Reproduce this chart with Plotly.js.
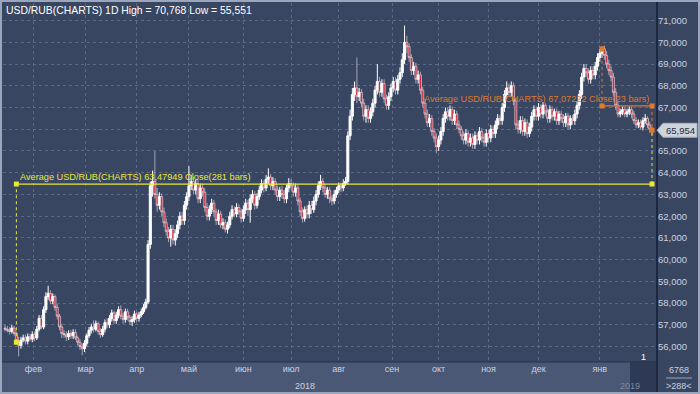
<!DOCTYPE html>
<html><head><meta charset="utf-8">
<script src="https://cdn.plot.ly/plotly-3.0.1.min.js"></script>
<style>html,body{margin:0;padding:0;background:#394662;}#chart{width:700px;height:394px;}</style>
</head><body><div id="chart"></div>
<script>
const openP=[
56.85,56.80,56.75,56.70,56.85,56.60,56.20,56.05,56.30,56.40,
56.25,56.45,56.35,56.55,56.40,56.80,57.30,56.90,57.70,58.30,
58.45,58.10,58.30,57.80,57.40,56.90,56.60,56.55,56.45,56.60,
56.50,56.65,56.40,56.20,56.00,55.90,56.15,56.50,56.75,56.90,
56.80,57.05,56.70,56.55,56.80,57.10,57.00,57.30,57.55,57.20,
57.45,57.70,57.40,57.25,57.60,57.35,57.15,57.25,57.50,57.30,
57.45,57.60,57.80,58.05,60.70,63.40,63.60,63.00,62.50,62.90,
62.20,61.70,61.30,61.00,61.40,60.90,61.20,61.60,62.00,61.80,
62.50,62.90,63.40,63.60,63.20,63.50,62.80,63.30,63.10,62.40,
62.00,62.30,62.60,62.20,61.80,62.10,61.60,61.70,61.40,61.60,
62.00,62.30,62.10,62.40,62.20,61.90,62.30,62.60,62.30,62.80,
63.00,62.50,62.90,63.20,63.50,63.30,63.70,63.80,63.40,63.60,
63.20,62.90,63.20,63.00,62.80,63.30,63.50,63.40,63.10,63.30,
62.70,62.20,61.90,62.30,62.10,62.50,62.30,62.70,63.00,63.40,
63.60,63.30,63.00,63.20,62.80,62.70,63.00,63.20,63.40,63.30,
63.50,63.60,65.70,66.60,67.60,67.90,67.50,67.70,67.20,66.60,
66.90,66.50,66.80,67.20,67.80,68.20,67.70,68.10,67.40,67.10,
67.50,67.90,68.20,67.80,68.30,68.60,69.20,70.00,69.80,69.30,
68.70,68.90,68.30,68.50,67.80,67.20,66.70,66.30,66.50,65.90,
65.60,65.20,65.50,65.90,66.50,66.80,66.60,66.90,66.40,66.70,
66.20,66.00,65.70,65.50,65.80,65.40,65.60,65.30,65.70,65.50,
65.90,65.60,65.40,65.80,65.60,66.00,65.80,66.20,66.50,66.40,
67.00,67.60,67.90,67.70,68.00,67.30,66.20,66.00,66.40,65.90,
66.30,65.80,66.10,66.60,66.90,66.60,67.00,66.70,67.10,66.80,
66.50,66.90,66.60,66.80,66.40,66.70,66.50,66.30,66.60,66.20,
66.50,66.40,66.70,67.10,67.60,68.40,68.80,68.60,68.30,68.70,
68.50,68.90,69.30,69.50,69.70,69.40,69.00,68.70,68.40,67.70,
67.10,66.70,66.80,66.90,66.70,66.80,66.90,66.70,66.40,66.20,
66.30,66.10,66.40,66.50,66.20,66.00];
const highP=[
57.00,56.95,56.90,57.00,56.95,56.70,56.45,56.45,56.55,56.55,
56.60,56.60,56.70,56.70,56.95,57.45,57.45,57.85,58.50,58.80,
58.60,58.45,58.40,57.95,57.50,57.05,56.75,56.70,56.75,56.75,
56.80,56.80,56.50,56.35,56.15,56.30,56.60,56.90,57.05,57.20,
57.20,57.15,56.85,56.95,57.25,57.30,57.45,57.70,57.65,57.60,
57.85,57.90,57.55,57.75,57.75,57.45,57.40,57.65,57.60,57.60,
57.75,57.95,58.20,60.90,63.60,64.10,65.00,63.30,63.10,63.05,
62.40,61.90,61.50,61.60,61.60,61.40,61.80,62.20,62.20,62.70,
63.10,64.30,63.90,63.80,63.70,63.70,63.50,63.50,63.30,62.60,
62.50,62.80,62.75,62.35,62.30,62.25,61.90,61.85,61.75,62.20,
62.50,62.45,62.60,62.55,62.35,62.50,62.80,62.75,63.00,63.20,
63.15,63.05,63.40,63.70,63.65,63.90,64.20,63.95,63.80,63.75,
63.40,63.35,63.40,63.20,63.45,63.75,63.70,63.55,63.50,63.45,
62.85,62.40,62.45,62.50,62.70,62.70,62.90,63.20,63.60,63.90,
63.75,63.45,63.35,63.35,62.95,63.20,63.35,63.55,63.55,63.70,
63.80,65.90,66.90,67.90,68.20,69.30,67.90,67.85,67.40,67.10,
67.10,67.00,67.40,68.00,69.00,68.40,68.30,68.30,67.60,67.70,
68.10,68.40,68.40,68.50,68.85,69.50,70.768,70.30,69.95,69.45,
69.10,69.05,68.70,68.65,67.95,67.40,66.90,66.70,66.65,66.05,
65.80,65.70,66.10,66.70,67.00,67.00,67.10,67.05,66.90,66.85,
66.40,66.15,65.90,66.00,65.95,65.80,65.80,65.90,65.85,66.10,
66.05,65.80,66.00,65.95,66.20,66.15,66.40,66.70,66.65,67.20,
67.80,68.20,68.10,68.20,68.15,67.45,66.40,66.60,66.60,66.50,
66.45,66.30,66.80,67.10,67.05,67.20,67.15,67.25,67.20,66.95,
67.10,67.05,66.95,66.95,66.85,66.85,66.70,66.75,66.75,66.65,
66.65,66.90,67.30,67.80,68.60,69.00,69.00,68.80,68.90,68.90,
69.10,69.50,69.70,69.80,69.85,69.60,69.20,68.90,68.60,67.90,
67.25,66.95,67.05,67.05,66.95,67.05,67.05,66.85,66.55,66.45,
66.45,66.55,66.70,66.60,66.35,66.10];
const lowP=[
56.70,56.65,56.55,56.60,56.50,56.10,55.55,55.90,56.20,56.10,
56.10,56.25,56.20,56.25,56.30,56.70,56.80,56.80,57.55,58.15,
57.95,57.95,57.65,57.25,56.75,56.40,56.40,56.25,56.30,56.35,
56.35,56.30,56.05,55.85,55.60,55.75,56.00,56.40,56.60,56.65,
56.70,56.55,56.40,56.45,56.65,56.85,56.85,57.15,57.05,57.05,
57.30,57.25,57.05,57.10,57.20,57.00,56.95,57.10,57.15,57.15,
57.35,57.50,57.70,57.95,60.50,62.90,62.80,62.20,62.30,62.00,
61.50,61.10,60.80,60.60,60.70,60.65,61.00,61.40,61.60,61.60,
62.30,62.70,63.20,63.00,63.00,62.60,62.60,62.90,62.20,61.80,
61.80,62.10,62.00,61.60,61.60,61.45,61.40,61.25,61.20,61.45,
61.85,61.95,61.95,62.05,61.70,61.75,62.10,62.00,61.70,62.60,
62.30,62.35,62.75,63.05,63.10,63.15,63.50,63.20,63.20,63.00,
62.70,62.70,62.80,62.60,62.60,63.10,63.20,62.90,62.90,62.50,
62.00,61.70,61.75,61.90,61.90,62.10,62.15,62.50,62.85,63.20,
63.10,62.85,62.80,62.60,62.50,62.55,62.85,63.05,63.10,63.15,
63.40,63.45,65.50,66.40,67.30,67.20,67.30,67.00,66.40,66.30,
66.30,66.30,66.60,67.00,67.60,67.50,67.50,67.20,66.90,66.90,
67.30,67.70,67.60,67.60,68.10,68.40,69.00,69.50,69.10,68.50,
68.50,68.10,68.10,67.60,67.00,66.50,66.10,66.10,65.70,65.40,
64.90,65.00,65.30,65.70,66.30,66.40,66.40,66.20,66.20,66.00,
65.80,65.50,65.30,65.30,65.20,65.20,65.10,65.10,65.30,65.30,
65.40,65.20,65.20,65.40,65.40,65.60,65.60,66.00,66.20,66.20,
66.80,67.40,67.50,67.50,67.10,66.00,65.80,65.80,65.70,65.70,
65.60,65.65,65.90,66.40,66.40,66.40,66.50,66.50,66.60,66.30,
66.30,66.40,66.40,66.20,66.20,66.30,66.10,66.10,66.00,66.00,
66.20,66.20,66.50,66.90,67.40,68.20,68.40,68.10,68.10,68.30,
68.30,68.70,69.10,69.30,69.20,68.80,68.50,68.20,67.50,66.90,
66.55,66.55,66.65,66.55,66.55,66.65,66.50,66.25,66.05,66.05,
66.00,65.95,66.25,66.05,65.85,65.75];
const closeP=[
56.80,56.75,56.70,56.85,56.60,56.20,56.05,56.30,56.40,56.25,
56.45,56.35,56.55,56.40,56.80,57.30,56.90,57.70,58.30,58.45,
58.10,58.30,57.80,57.40,56.90,56.60,56.55,56.45,56.60,56.50,
56.65,56.40,56.20,56.00,55.90,56.15,56.50,56.75,56.90,56.80,
57.05,56.70,56.55,56.80,57.10,57.00,57.30,57.55,57.20,57.45,
57.70,57.40,57.25,57.60,57.35,57.15,57.25,57.50,57.30,57.45,
57.60,57.80,58.05,60.70,63.40,63.60,63.00,62.50,62.90,62.20,
61.70,61.30,61.00,61.40,60.90,61.20,61.60,62.00,61.80,62.50,
62.90,63.40,63.60,63.20,63.50,62.80,63.30,63.10,62.40,62.00,
62.30,62.60,62.20,61.80,62.10,61.60,61.70,61.40,61.60,62.00,
62.30,62.10,62.40,62.20,61.90,62.30,62.60,62.30,62.80,63.00,
62.50,62.90,63.20,63.50,63.30,63.70,63.80,63.40,63.60,63.20,
62.90,63.20,63.00,62.80,63.30,63.50,63.40,63.10,63.30,62.70,
62.20,61.90,62.30,62.10,62.50,62.30,62.70,63.00,63.40,63.60,
63.30,63.00,63.20,62.80,62.70,63.00,63.20,63.40,63.30,63.50,
63.60,65.70,66.60,67.60,67.90,67.50,67.70,67.20,66.60,66.90,
66.50,66.80,67.20,67.80,68.20,67.70,68.10,67.40,67.10,67.50,
67.90,68.20,67.80,68.30,68.60,69.20,70.00,69.80,69.30,68.70,
68.90,68.30,68.50,67.80,67.20,66.70,66.30,66.50,65.90,65.60,
65.20,65.50,65.90,66.50,66.80,66.60,66.90,66.40,66.70,66.20,
66.00,65.70,65.50,65.80,65.40,65.60,65.30,65.70,65.50,65.90,
65.60,65.40,65.80,65.60,66.00,65.80,66.20,66.50,66.40,67.00,
67.60,67.90,67.70,68.00,67.30,66.20,66.00,66.40,65.90,66.30,
65.80,66.10,66.60,66.90,66.60,67.00,66.70,67.10,66.80,66.50,
66.90,66.60,66.80,66.40,66.70,66.50,66.30,66.60,66.20,66.50,
66.40,66.70,67.10,67.60,68.40,68.80,68.60,68.30,68.70,68.50,
68.90,69.30,69.50,69.70,69.40,69.00,68.70,68.40,67.70,67.10,
66.70,66.80,66.90,66.70,66.80,66.90,66.70,66.40,66.20,66.30,
66.10,66.40,66.50,66.20,66.00,65.954];

const monthTicks=[12.5,35.5,58,81,105,126,147,170.5,191,213,235,262];
const monthLabels=['фев','мар','апр','май','июн','июл','авг','сен','окт','ноя','дек','янв'];
const yearLabels=['2018','2019'];
const priceTicks=[56,57,58,59,60,61,62,63,64,65,66,67,68,69,70,71];
// 66,000 is hidden behind the last-price marker in the reference
const priceLabels=['56,000','57,000','58,000','59,000','60,000','61,000','62,000','63,000','64,000','65,000','','67,000','68,000','69,000','70,000','71,000'];
const avgAll=63.47949, avgAllStart=5;
const avgRecent=67.07222, avgRecentStart=263;
const lastIdx=closeP.length-1;
const lastClose=closeP[lastIdx];
const titleText='USD/RUB(CHARTS) 1D High = 70,768 Low = 55,551';
const avgAllText='Average USD/RUB(CHARTS) 63,47949 Close(281 bars)';
const avgRecentText='Average USD/RUB(CHARTS) 67,07222 Close(23 bars)';
const lastText='65,954';
const cornerTop='6768', cornerBottom='&gt;288&lt;', pageMark='1';

const xs=closeP.map((_,i)=>i);
const BG='#394662', YEL='#e8e838', ORG='#dd7a2c', FONT='Liberation Sans, Arial, sans-serif';
const L=3,R=657,T=3,B=362;
const px=v=>(v-L)/(R-L), py=v=>(B-v)/(B-T);

const traces=[
 {type:'candlestick',x:xs,open:openP,high:highP,low:lowP,close:closeP,
  increasing:{line:{color:'#ffffff',width:1},fillcolor:'#ffffff'},
  decreasing:{line:{color:'#f4e6ea',width:0.6},fillcolor:'#c8283f'},
  whiskerwidth:0,hoverinfo:'skip',showlegend:false},
 {type:'scatter',mode:'lines',x:[avgAllStart,avgAllStart],y:[closeP[avgAllStart],avgAll],line:{color:YEL,width:1,dash:'dot'},hoverinfo:'skip',showlegend:false},
 {type:'scatter',mode:'lines',x:[avgAllStart,lastIdx],y:[avgAll,avgAll],line:{color:YEL,width:1.2},hoverinfo:'skip',showlegend:false},
 {type:'scatter',mode:'lines',x:[lastIdx,lastIdx],y:[avgAll,lastClose],line:{color:YEL,width:1,dash:'dot'},hoverinfo:'skip',showlegend:false},
 {type:'scatter',mode:'markers',x:[avgAllStart,avgAllStart,lastIdx],y:[closeP[avgAllStart],avgAll,avgAll],marker:{symbol:'square',size:5,color:YEL},hoverinfo:'skip',showlegend:false},
 {type:'scatter',mode:'lines',x:[avgRecentStart,avgRecentStart],y:[closeP[avgRecentStart],avgRecent],line:{color:ORG,width:1,dash:'dot'},hoverinfo:'skip',showlegend:false},
 {type:'scatter',mode:'lines',x:[avgRecentStart,lastIdx],y:[avgRecent,avgRecent],line:{color:ORG,width:1.2},hoverinfo:'skip',showlegend:false},
 {type:'scatter',mode:'lines',x:[lastIdx,lastIdx],y:[avgRecent,lastClose],line:{color:ORG,width:1,dash:'dot'},hoverinfo:'skip',showlegend:false},
 {type:'scatter',mode:'markers',x:[avgRecentStart,avgRecentStart,lastIdx,lastIdx],y:[closeP[avgRecentStart],avgRecent,avgRecent,lastClose],marker:{symbol:'square',size:5,color:ORG},hoverinfo:'skip',showlegend:false}
];

const layout={
 width:700,height:394,margin:{l:L,r:700-R,t:T,b:394-B},
 paper_bgcolor:BG,plot_bgcolor:BG,showlegend:false,
 boxgap:0.1,boxgroupgap:0,
 font:{family:FONT,color:'#c9d1e0',size:9},
 xaxis:{range:[-0.9,287.2],rangeslider:{visible:false},tickvals:monthTicks,ticktext:monthLabels,
   showgrid:true,gridcolor:'#5a6986',griddash:'3px,3px',gridwidth:1,zeroline:false,showline:false,ticks:'',
   tickfont:{size:9,color:'#c9d1e0',family:FONT},fixedrange:true},
 yaxis:{side:'right',range:[55.29,71.81],tickvals:priceTicks,ticktext:priceLabels,
   showgrid:true,gridcolor:'#5a6986',griddash:'3px,3px',gridwidth:1,zeroline:false,showline:false,ticks:'',
   tickfont:{size:9.5,color:'#c9d1e0',family:FONT},fixedrange:true},
 shapes:[
  {type:'rect',xref:'paper',yref:'paper',x0:px(0),x1:px(R),y0:py(B),y1:py(394),fillcolor:'#4a5876',line:{width:0},layer:'below'},
  {type:'rect',xref:'paper',yref:'paper',x0:px(630),x1:px(R),y0:py(B),y1:py(394),fillcolor:'#2e3a55',line:{width:0},layer:'below'},
  {type:'line',xref:'paper',yref:'paper',x0:px(0),x1:px(R),y0:py(B),y1:py(B),line:{color:'#27314a',width:1}},
  {type:'line',xref:'paper',yref:'paper',x0:px(R),x1:px(R),y0:py(0),y1:py(394),line:{color:'#1e2740',width:2}},
  {type:'line',xref:'paper',yref:'paper',x0:px(666),x1:px(692),y0:py(378),y1:py(378),line:{color:'#9aa5bb',width:1}},
  {type:'rect',xref:'paper',yref:'paper',x0:px(1),x1:px(699),y0:py(1),y1:py(393),line:{color:'#9ba6bc',width:2}},
  {type:'path',xref:'paper',yref:'y',
   path:`M ${px(657)},${lastClose} L ${px(663)},${lastClose+0.32} L ${px(697)},${lastClose+0.32} L ${px(697)},${lastClose-0.32} L ${px(663)},${lastClose-0.32} Z`,
   fillcolor:'#cfd3db',line:{color:'#aab0bc',width:1}}
 ],
 annotations:[
  {xref:'paper',yref:'paper',x:px(4),y:py(10),xanchor:'left',yanchor:'middle',text:titleText,showarrow:false,font:{size:10.4,color:'#ffffff',family:FONT}},
  {xref:'x',yref:'y',x:avgAllStart+0.6,y:avgAll,xanchor:'left',yanchor:'bottom',text:avgAllText,showarrow:false,font:{size:9.2,color:YEL,family:FONT}},
  {xref:'x',yref:'y',x:lastIdx-0.6,y:avgRecent,xanchor:'right',yanchor:'bottom',text:avgRecentText,showarrow:false,font:{size:9.2,color:ORG,family:FONT}},
  {xref:'paper',yref:'y',x:px(664),y:lastClose,xanchor:'left',yanchor:'middle',text:lastText,showarrow:false,font:{size:9.5,color:'#1d2940',family:FONT}},
  {xref:'paper',yref:'paper',x:px(305),y:py(386),xanchor:'center',yanchor:'middle',text:yearLabels[0],showarrow:false,font:{size:9,color:'#c9d1e0',family:FONT}},
  {xref:'paper',yref:'paper',x:px(630),y:py(386),xanchor:'center',yanchor:'middle',text:yearLabels[1],showarrow:false,font:{size:9,color:'#7d8aa3',family:FONT}},
  {xref:'paper',yref:'paper',x:px(679),y:py(370),xanchor:'center',yanchor:'middle',text:cornerTop,showarrow:false,font:{size:9,color:'#c9d1e0',family:FONT}},
  {xref:'paper',yref:'paper',x:px(679),y:py(386),xanchor:'center',yanchor:'middle',text:cornerBottom,showarrow:false,font:{size:9,color:'#c9d1e0',family:FONT}},
  {xref:'paper',yref:'paper',x:px(643),y:py(357),xanchor:'center',yanchor:'middle',text:pageMark,showarrow:false,font:{size:9,color:'#ffffff',family:FONT}}
 ]
};
Plotly.newPlot('chart',traces,layout,{displayModeBar:false,staticPlot:true});
</script></body></html>
